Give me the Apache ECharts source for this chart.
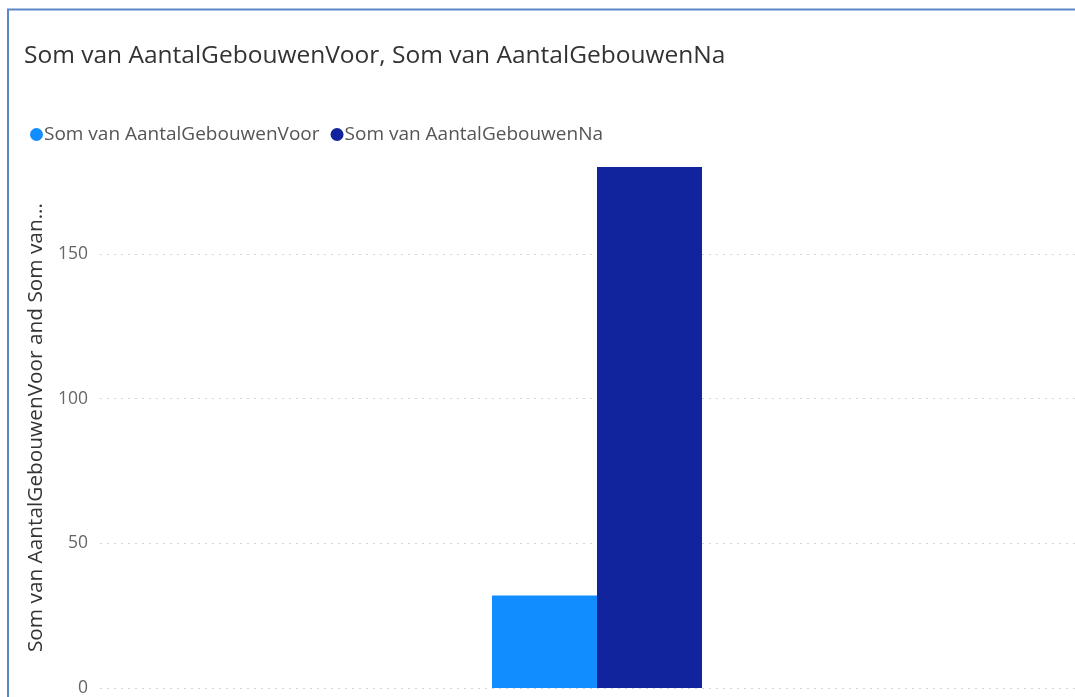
<!DOCTYPE html>
<html>
<head>
<meta charset="utf-8">
<script src="https://cdn.jsdelivr.net/npm/echarts@6/dist/echarts.min.js"></script>
<style>
  html, body { margin: 0; padding: 0; background: #fff; overflow: hidden; }
  #chart { width: 1100px; height: 697px; }
</style>
</head>
<body>
<div id="chart"></div>
<script>
const categories = ['Totaal'];
const voorValues = [32];
const naValues = [180];
const yTicks = [0, 50, 100, 150];

const seriesNames = ['Som van AantalGebouwenVoor', 'Som van AantalGebouwenNa'];
const colors = ['#118DFF', '#12239E'];
const font = '"Open Sans", "Noto Sans", sans-serif';

const chart = echarts.init(document.getElementById('chart'), null, { renderer: 'canvas' });

chart.setOption({
  animation: false,
  textStyle: { fontFamily: font },
  title: {
    text: 'Som van AantalGebouwenVoor, Som van AantalGebouwenNa',
    left: 19,
    top: 39,
    textStyle: { fontFamily: font, fontSize: 24.5, fontWeight: 'normal', color: '#333333' }
  },
  legend: {
    data: seriesNames,
    left: 25,
    top: 120,
    icon: 'circle',
    itemWidth: 13,
    itemHeight: 13,
    itemGap: 11,
    textStyle: { fontFamily: font, fontSize: 19, color: '#555555', padding: [0, 0, 0, -4] }
  },
  graphic: [{
    type: 'rect',
    shape: { x: 8, y: 9.5, width: 2000, height: 2000 },
    style: { fill: 'none', stroke: '#5b87c8', lineWidth: 2 },
    silent: true
  }],
  grid: { left: 100, right: 6, top: 167, bottom: 9 },
  xAxis: {
    type: 'category',
    data: categories,
    axisLine: { show: false },
    axisTick: { show: false },
    axisLabel: { show: false }
  },
  yAxis: {
    type: 'value',
    min: yTicks[0],
    max: 180,
    interval: yTicks[1] - yTicks[0],
    name: 'Som van AantalGebouwenVoor and Som van...',
    nameLocation: 'middle',
    nameGap: 53,
    nameTextStyle: { fontFamily: font, fontSize: 20.8, color: '#333333' },
    axisLine: { show: false },
    axisTick: { show: false },
    axisLabel: {
      showMaxLabel: false,
      margin: 12,
      fontFamily: font,
      fontSize: 17.5,
      color: '#666666'
    },
    splitLine: {
      showMaxLine: false,
      lineStyle: { type: [2, 5], color: '#d6d6d6', width: 1 }
    }
  },
  series: [
    {
      name: seriesNames[0],
      type: 'bar',
      data: voorValues,
      barWidth: 105,
      barGap: '0%',
      itemStyle: { color: colors[0] }
    },
    {
      name: seriesNames[1],
      type: 'bar',
      data: naValues,
      barWidth: 105,
      barGap: '0%',
      itemStyle: { color: colors[1] }
    }
  ]
});
</script>
</body>
</html>
